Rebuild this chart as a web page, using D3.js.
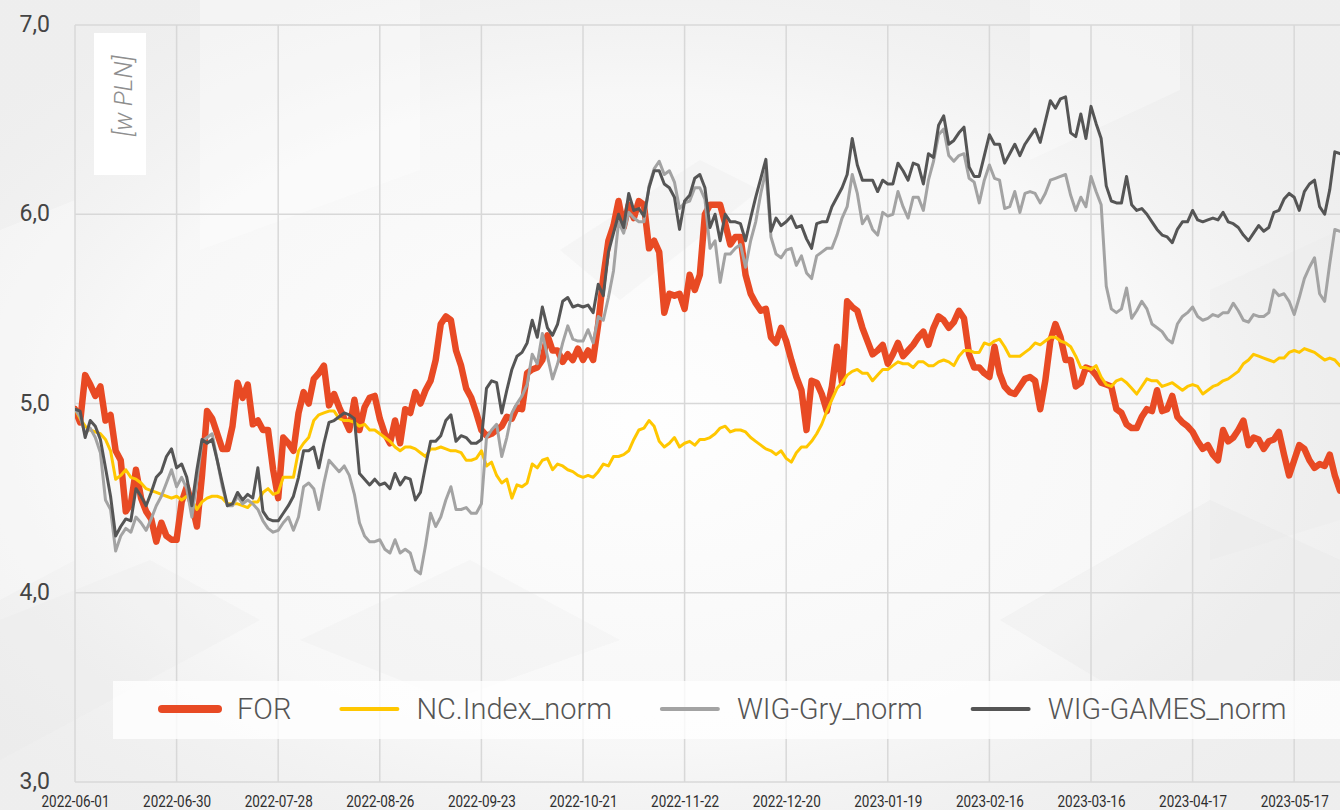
<!DOCTYPE html>
<html lang="pl">
<head>
  <meta charset="UTF-8" />
  <title>FOR vs indeksy</title>
  <style>
    body {
      margin: 0;
      background: #f3f3f3;
    }
    svg { display: block; }
    .ylab { font-family: Roboto, Arial, sans-serif; font-size: 23px; fill: #444; }
    .xlab { font-family: Roboto, Arial, sans-serif; font-size: 16px; fill: #2e2e2e; }
    .leg text { font-family: Roboto, Arial, sans-serif; font-size: 29px; font-weight: 300; fill: #555; }
    .unit { font-family: Roboto, Arial, sans-serif; font-size: 25px; font-style: italic; font-weight: 300; fill: #8e8e8e; }
  </style>
</head>
<body>
  <svg width="1340" height="810"></svg>

  <script src="https://d3js.org/d3.v7.min.js"></script>
  <script>
    // x-axis labels, one every 20 sessions
    const tickLabels = ["2022-06-01", "2022-06-30", "2022-07-28", "2022-08-26", "2022-09-23", "2022-10-21",
      "2022-11-22", "2022-12-20", "2023-01-19", "2023-02-16", "2023-03-16", "2023-04-17", "2023-05-17"];
    const yTicks = [3, 4, 5, 6, 7];

    const forVals = [
      4.97,4.90,5.15,5.10,5.04,5.09,4.91,4.94,4.75,4.70, 4.43,4.47,4.65,4.50,4.43,4.39,4.27,4.37,4.30,4.28,
      4.28,4.48,4.56,4.47,4.35,4.62,4.96,4.92,4.84,4.76, 4.76,4.88,5.11,5.03,5.10,4.89,4.91,4.86,4.86,4.65,
      4.50,4.82,4.79,4.75,4.95,5.06,5.00,5.13,5.16,5.20, 4.99,5.05,4.98,4.92,4.86,5.02,4.86,4.98,5.03,5.04,
      4.92,4.84,4.79,4.91,4.79,4.97,4.95,5.06,5.00,5.07, 5.12,5.23,5.42,5.46,5.44,5.28,5.20,5.08,5.03,4.95,
      4.86,4.83,4.84,4.86,4.88,4.93,4.92,4.98,4.97,5.16, 5.18,5.19,5.23,5.36,5.28,5.28,5.22,5.26,5.23,5.29,
      5.23,5.28,5.23,5.42,5.67,5.86,5.94,6.07,5.93,6.05, 5.98,6.07,6.05,5.82,5.86,5.80,5.48,5.58,5.57,5.58,
      5.50,5.68,5.60,5.68,6.00,6.05,6.05,6.05,5.95,5.84, 5.88,5.88,5.68,5.58,5.53,5.49,5.50,5.35,5.32,5.40,
      5.33,5.23,5.14,5.07,4.86,5.12,5.11,5.05,4.96,5.09, 5.30,5.11,5.54,5.51,5.49,5.40,5.33,5.26,5.28,5.31,
      5.21,5.26,5.32,5.25,5.28,5.31,5.35,5.38,5.31,5.40, 5.46,5.44,5.40,5.43,5.49,5.45,5.26,5.19,5.19,5.16,
      5.14,5.30,5.16,5.09,5.06,5.05,5.09,5.13,5.14,5.12, 4.97,5.12,5.33,5.42,5.35,5.23,5.23,5.09,5.11,5.19,
      5.18,5.15,5.11,5.10,5.09,4.97,4.95,4.89,4.87,4.87, 4.93,4.97,4.96,5.07,4.96,4.97,5.04,4.93,4.90,4.88,
      4.85,4.80,4.76,4.78,4.73,4.70,4.86,4.80,4.82,4.86, 4.91,4.78,4.82,4.81,4.76,4.80,4.81,4.85,4.73,4.62,
      4.70,4.78,4.76,4.70,4.66,4.68,4.67,4.73,4.62,4.54
    ];

    const ncVals = [
      4.97,4.92,4.88,4.86,4.85,4.84,4.81,4.75,4.60,4.62, 4.65,4.61,4.60,4.58,4.55,4.54,4.53,4.52,4.51,4.50,
      4.51,4.49,4.51,4.49,4.44,4.48,4.50,4.51,4.51,4.50, 4.47,4.47,4.47,4.46,4.45,4.48,4.48,4.53,4.55,4.52,
      4.53,4.61,4.61,4.61,4.75,4.79,4.82,4.91,4.94,4.95, 4.96,4.96,4.92,4.91,4.91,4.90,4.88,4.89,4.86,4.86,
      4.84,4.82,4.80,4.77,4.75,4.77,4.77,4.76,4.74,4.72, 4.76,4.76,4.77,4.76,4.75,4.75,4.74,4.70,4.70,4.71,
      4.75,4.67,4.69,4.62,4.58,4.60,4.50,4.57,4.56,4.58, 4.68,4.66,4.70,4.71,4.65,4.68,4.67,4.65,4.64,4.62,
      4.61,4.62,4.61,4.64,4.68,4.67,4.72,4.72,4.73,4.75, 4.81,4.86,4.87,4.91,4.88,4.80,4.77,4.79,4.82,4.77,
      4.79,4.80,4.78,4.81,4.81,4.82,4.84,4.87,4.88,4.85, 4.86,4.86,4.85,4.82,4.80,4.78,4.76,4.75,4.73,4.75,
      4.71,4.69,4.74,4.77,4.77,4.80,4.84,4.89,4.96,5.02, 5.08,5.11,5.15,5.17,5.18,5.16,5.16,5.12,5.15,5.18,
      5.18,5.20,5.22,5.21,5.21,5.19,5.22,5.22,5.20,5.20, 5.22,5.23,5.22,5.20,5.25,5.28,5.28,5.27,5.27,5.32,
      5.31,5.33,5.34,5.30,5.25,5.25,5.25,5.27,5.29,5.32, 5.31,5.33,5.35,5.35,5.33,5.32,5.30,5.25,5.19,5.19,
      5.18,5.20,5.14,5.10,5.09,5.12,5.13,5.11,5.08,5.05, 5.09,5.13,5.12,5.12,5.09,5.10,5.11,5.09,5.07,5.09,
      5.10,5.09,5.05,5.07,5.09,5.10,5.12,5.13,5.15,5.17, 5.21,5.23,5.26,5.25,5.24,5.23,5.22,5.24,5.24,5.27,
      5.28,5.27,5.29,5.28,5.27,5.25,5.23,5.24,5.23,5.20
    ];

    const gryVals = [
      4.97,4.93,4.84,4.87,4.82,4.74,4.49,4.44,4.22,4.30, 4.34,4.32,4.40,4.37,4.33,4.39,4.46,4.51,4.58,4.65,
      4.56,4.61,4.55,4.40,4.59,4.80,4.82,4.84,4.70,4.56, 4.46,4.46,4.51,4.47,4.49,4.47,4.44,4.38,4.34,4.32,
      4.33,4.37,4.40,4.33,4.40,4.56,4.58,4.55,4.44,4.58, 4.70,4.67,4.64,4.67,4.62,4.52,4.37,4.30,4.27,4.27,
      4.28,4.23,4.21,4.28,4.21,4.23,4.21,4.12,4.10,4.25, 4.42,4.35,4.40,4.49,4.56,4.44,4.44,4.45,4.42,4.42,
      4.47,4.82,4.86,4.89,4.72,4.82,4.95,5.00,5.04,5.10, 5.26,5.21,5.37,5.25,5.13,5.21,5.32,5.41,5.34,5.33,
      5.33,5.39,5.32,5.46,5.44,5.56,5.70,5.96,5.90,6.01, 5.98,5.96,5.96,6.15,6.24,6.28,6.21,6.23,6.17,6.03,
      6.06,6.07,6.14,6.14,6.08,5.82,5.86,5.64,5.79,5.79, 5.82,5.84,5.72,5.86,5.96,6.11,6.23,5.88,5.79,5.77,
      5.81,5.82,5.73,5.78,5.69,5.66,5.78,5.80,5.82,5.82, 5.89,5.98,6.04,6.21,6.11,5.95,5.99,5.92,5.89,6.01,
      5.99,6.00,6.12,6.04,5.98,6.09,6.09,6.02,6.18,6.28, 6.42,6.45,6.31,6.28,6.31,6.32,6.19,6.17,6.06,6.18,
      6.26,6.19,6.18,6.03,6.04,6.12,6.01,6.11,6.12,6.11, 6.06,6.11,6.18,6.19,6.20,6.21,6.10,6.02,6.09,6.04,
      6.20,6.12,6.05,5.62,5.50,5.48,5.50,5.61,5.45,5.49, 5.54,5.50,5.42,5.40,5.38,5.34,5.32,5.42,5.46,5.48,
      5.51,5.46,5.44,5.45,5.47,5.46,5.48,5.48,5.53,5.49, 5.44,5.43,5.47,5.46,5.46,5.48,5.60,5.57,5.58,5.54,
      5.47,5.56,5.66,5.72,5.77,5.58,5.54,5.74,5.92,5.91
    ];

    const gamesVals = [
      4.97,4.96,4.82,4.91,4.88,4.81,4.66,4.51,4.30,4.35, 4.39,4.38,4.55,4.51,4.46,4.53,4.61,4.64,4.72,4.76,
      4.66,4.68,4.61,4.46,4.65,4.81,4.79,4.81,4.70,4.58, 4.46,4.47,4.53,4.49,4.52,4.50,4.66,4.43,4.39,4.38,
      4.38,4.42,4.46,4.51,4.61,4.75,4.75,4.77,4.66,4.79, 4.90,4.91,4.93,4.95,4.94,4.92,4.63,4.60,4.57,4.60,
      4.57,4.58,4.55,4.63,4.57,4.61,4.60,4.49,4.53,4.67, 4.80,4.80,4.83,4.91,4.94,4.80,4.83,4.82,4.79,4.79,
      4.81,5.08,5.12,5.11,4.95,5.07,5.18,5.25,5.27,5.32, 5.44,5.35,5.51,5.40,5.36,5.42,5.54,5.56,5.51,5.52,
      5.51,5.52,5.48,5.63,5.57,5.80,5.90,6.00,5.93,6.11, 6.02,6.03,5.99,6.14,6.23,6.23,6.16,6.14,6.09,5.92,
      6.07,6.10,6.19,6.21,6.14,5.93,6.00,5.86,6.00,5.96, 5.96,5.95,5.86,5.98,6.09,6.19,6.29,5.91,5.98,5.94,
      5.96,5.99,5.93,5.94,5.87,5.82,5.95,5.96,5.96,6.04, 6.09,6.14,6.21,6.40,6.26,6.18,6.18,6.18,6.12,6.18,
      6.16,6.16,6.27,6.23,6.18,6.27,6.26,6.16,6.32,6.30, 6.47,6.52,6.37,6.39,6.43,6.46,6.25,6.20,6.20,6.31,
      6.42,6.37,6.37,6.27,6.32,6.37,6.31,6.37,6.41,6.45, 6.38,6.49,6.60,6.56,6.61,6.62,6.43,6.41,6.53,6.40,
      6.57,6.48,6.40,6.15,6.07,6.06,6.06,6.20,6.05,6.02, 6.03,6.00,5.96,5.92,5.89,5.88,5.85,5.92,5.96,5.96,
      6.02,5.97,5.96,5.97,5.98,5.97,6.01,5.96,5.95,5.93, 5.89,5.86,5.90,5.94,5.91,5.93,6.01,6.02,6.08,6.11,
      6.09,6.02,6.12,6.16,6.18,6.04,6.00,6.13,6.33,6.32
    ];

    const series = [
      { name: "FOR", values: forVals, color: "#e84a24", width: 6.5, legendWidth: 8 },
      { name: "NC.Index_norm", values: ncVals, color: "#ffc700", width: 3, legendWidth: 4 },
      { name: "WIG-Gry_norm", values: gryVals, color: "#a3a3a3", width: 3, legendWidth: 4 },
      { name: "WIG-GAMES_norm", values: gamesVals, color: "#555555", width: 3, legendWidth: 4 }
    ];

    const width = 1340;
    const height = 810;
    const margin = { top: 25, right: 0, bottom: 28, left: 75 };
    const step = 5.08;

    const svg = d3.select("svg");

    // background with soft facets
    const defs = svg.append("defs");
    const grad = defs.append("radialGradient").attr("id", "glow")
      .attr("cx", "48%").attr("cy", "52%").attr("r", "62%");
    grad.append("stop").attr("offset", "0%").attr("stop-color", "#ffffff").attr("stop-opacity", 0.95);
    grad.append("stop").attr("offset", "65%").attr("stop-color", "#fbfbfb").attr("stop-opacity", 0.7);
    grad.append("stop").attr("offset", "100%").attr("stop-color", "#ececec").attr("stop-opacity", 0.3);

    svg.append("rect").attr("width", width).attr("height", height).attr("fill", "#efefef");
    svg.append("rect").attr("width", width).attr("height", height).attr("fill", "url(#glow)");

    const facets = [
      { p: "200,0 420,0 420,170 200,250", f: "#ffffff", o: 0.35 },
      { p: "560,250 700,160 760,190 620,300", f: "#e9e9e9", o: 0.25 },
      { p: "0,230 75,200 75,560 0,600", f: "#ffffff", o: 0.3 },
      { p: "1030,0 1180,0 1180,90 1030,160", f: "#ffffff", o: 0.3 },
      { p: "1210,290 1340,230 1340,520 1210,560", f: "#e6e6e6", o: 0.2 },
      { p: "1000,620 1210,500 1340,560 1340,680 1100,680", f: "#e4e4e4", o: 0.25 },
      { p: "300,640 470,560 620,640 450,700", f: "#e6e6e6", o: 0.2 },
      { p: "0,620 150,560 260,620 0,760", f: "#e8e8e8", o: 0.2 }
    ];
    svg.append("g").selectAll("polygon")
      .data(facets)
      .join("polygon")
        .attr("points", d => d.p)
        .attr("fill", d => d.f)
        .attr("opacity", d => d.o);

    const x = d3.scaleLinear()
      .domain([0, forVals.length - 1])
      .range([margin.left, margin.left + (forVals.length - 1) * step]);
    const y = d3.scaleLinear()
      .domain([3, 7])
      .range([height - margin.bottom, margin.top]);

    const tickIdx = tickLabels.map((_, i) => i * 20);

    // grid
    const grid = svg.append("g").attr("stroke", "#d8d8d8").attr("stroke-width", 1.5);
    grid.selectAll(".h")
      .data(yTicks)
      .join("line")
        .attr("x1", margin.left).attr("x2", width)
        .attr("y1", d => y(d)).attr("y2", d => y(d));
    grid.selectAll(".v")
      .data(tickIdx)
      .join("line")
        .attr("x1", d => x(d)).attr("x2", d => x(d))
        .attr("y1", y(7)).attr("y2", y(3));

    // y labels
    svg.append("g").selectAll("text")
      .data(yTicks)
      .join("text")
        .attr("class", "ylab")
        .attr("x", 50)
        .attr("y", d => y(d) - 1)
        .attr("dy", "0.35em")
        .attr("text-anchor", "end")
        .text(d => d.toFixed(1).replace(".", ","));

    // x labels through an axis
    const xAxis = d3.axisBottom(x)
      .tickValues(tickIdx)
      .tickSize(0)
      .tickFormat((d, i) => tickLabels[i]);
    const gx = svg.append("g")
      .attr("transform", `translate(0, ${height - margin.bottom})`)
      .call(xAxis);
    gx.select(".domain").remove();
    gx.selectAll("text")
      .attr("class", "xlab")
      .attr("fill", null)
      .attr("y", 25)
      .attr("dy", null)
      .attr("font-size", null)
      .attr("font-family", null)
      .attr("textLength", 68)
      .attr("lengthAdjust", "spacingAndGlyphs");

    // unit box
    svg.append("rect")
      .attr("x", 94).attr("y", 33).attr("width", 52).attr("height", 142)
      .attr("fill", "#ffffff");
    svg.append("text")
      .attr("class", "unit")
      .attr("transform", "translate(132, 96) rotate(-90)")
      .attr("text-anchor", "middle")
      .text("[w PLN]");

    // lines
    defs.append("clipPath").attr("id", "plot")
      .append("rect")
        .attr("x", margin.left).attr("y", 0)
        .attr("width", width - margin.left).attr("height", height);

    const line = d3.line()
      .x((d, i) => x(i))
      .y(d => y(d));

    svg.append("g")
      .attr("clip-path", "url(#plot)")
      .selectAll("path")
      .data(series)
      .join("path")
        .attr("d", d => line(d.values))
        .attr("fill", "none")
        .attr("stroke", d => d.color)
        .attr("stroke-width", d => d.width)
        .attr("stroke-linejoin", "round")
        .attr("stroke-linecap", "round");

    // legend
    svg.append("rect")
      .attr("x", 113).attr("y", 681).attr("width", width - 113).attr("height", 58)
      .attr("fill", "#ffffff").attr("opacity", 0.78);

    const leg = svg.append("g").attr("class", "leg");
    let lx = 162;
    series.forEach(s => {
      leg.append("line")
        .attr("x1", lx).attr("x2", lx + 56)
        .attr("y1", 709).attr("y2", 709)
        .attr("stroke", s.color)
        .attr("stroke-width", s.legendWidth)
        .attr("stroke-linecap", "round");
      const t = leg.append("text")
        .attr("x", lx + 75)
        .attr("y", 719)
        .text(s.name);
      lx = lx + 75 + t.node().getComputedTextLength() + 50;
    });
  </script>
</body>
</html>
